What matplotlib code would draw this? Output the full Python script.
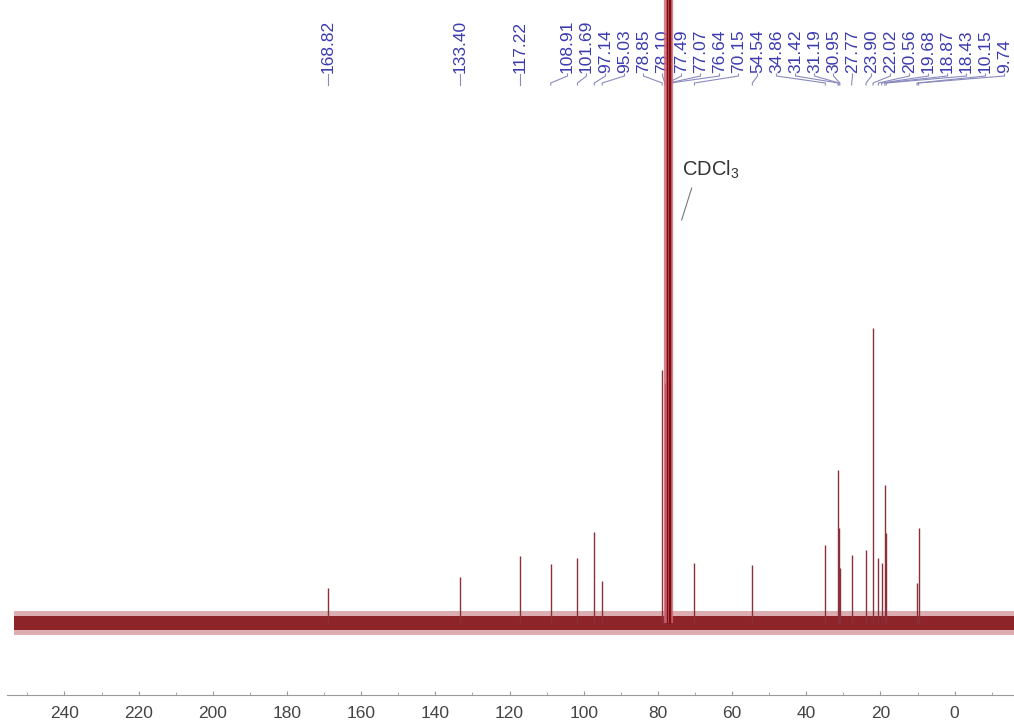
import numpy as np
import matplotlib.pyplot as plt

plt.rcParams['font.family'] = ['Liberation Sans', 'DejaVu Sans']
plt.rcParams['mathtext.fontset'] = 'custom'
plt.rcParams['mathtext.rm'] = 'Liberation Sans'
plt.rcParams['mathtext.default'] = 'regular'

# peak list (ppm) and heights (baseline = 0)
shifts = [168.82, 133.40, 117.22, 108.91, 101.69, 97.14, 95.03,
          78.85, 78.10, 77.49, 77.07, 76.64, 70.15, 54.54,
          34.86, 31.42, 31.19, 30.95, 27.77, 23.90, 22.02,
          20.56, 19.68, 18.87, 18.43, 10.15, 9.74]
heights = [35, 46, 67, 59, 65, 91, 42,
           253, 240, 900, 950, 880, 60, 58,
           78, 153, 95, 55, 68, 73, 295,
           65, 60, 138, 90, 40, 95]
solvent = [77.49, 77.07, 76.64]
noise_level = 7
x_ticks = [240, 220, 200, 180, 160, 140, 120, 100, 80, 60, 40, 20, 0]

RED = '#7e0c12'
BLUE = '#3b3bb0'
LEAD = '#8a8ac0'

W, H = 1014, 725
fig = plt.figure(figsize=(W / 100, H / 100), dpi=100)
ax = fig.add_axes([7 / W, 30 / H, 1007 / W, 695 / H])
ax.set_xlim(255.5, -16)
ax.set_ylim(-72, 623)
ppm_per_px = (255.5 + 16) / 1007


def ypx(y):
    # pixel row (from top) -> axes fraction
    return (695 - y) / 695


# baseline noise band
ax.fill_between([253.6, -16], -noise_level - 5, noise_level + 5, color='#a01820', alpha=0.35, lw=0, zorder=2)
ax.fill_between([253.6, -16], -noise_level, noise_level, color=RED, alpha=0.85, lw=0, zorder=2)

# peaks
for s, h in zip(shifts, heights):
    if s in solvent:
        ax.vlines(s, 0, h, color='#cc6670', lw=4.5, alpha=0.8, zorder=3)
        ax.vlines(s, 0, h, color=RED, lw=1.0, zorder=4)
    else:
        ax.vlines(s, 0, h, color='#8a3038', lw=1.0, zorder=3)

# group labels that would overlap, then lay each group out around its median
gap = 19 * ppm_per_px
pos = [-s for s in shifts]
clusters = [[i] for i in range(len(pos))]


def place(c, centre=np.mean):
    m = centre([pos[i] for i in c])
    return [m + (k - (len(c) - 1) / 2) * gap for k in range(len(c))]


merged = True
while merged:
    merged = False
    for j in range(len(clusters) - 1):
        a, b = place(clusters[j]), place(clusters[j + 1])
        if b[0] - a[-1] < gap:
            clusters[j] = clusters[j] + clusters[j + 1]
            del clusters[j + 1]
            merged = True
            break

label_x = {}
prev_end = -np.inf
right_limit = 16 - gap / 2
for c in clusters:
    p = place(c, np.median)
    shift = max(0, prev_end + gap - p[0])
    if p[-1] + shift > right_limit:
        shift = right_limit - p[-1]
    p = [v + shift for v in p]
    prev_end = p[-1]
    for i, v in zip(c, p):
        label_x[i] = -v

tr = ax.get_xaxis_transform()
for i, s in enumerate(shifts):
    lx = label_x[i]
    ax.text(lx, ypx(73), f'{s:.2f}', rotation=90, ha='center', va='bottom',
            transform=tr, color=BLUE, fontsize=12.5, zorder=1)
    ax.plot([lx, lx, s, s], [ypx(74), ypx(76), ypx(83), ypx(85)],
            transform=tr, color=LEAD, lw=0.8, zorder=1)

# solvent annotation
ax.text(73.6, 453, 'CDCl$_3$', ha='left', va='center', fontsize=14.5, color='#333333')
ax.plot([70.9, 73.6], [435, 403], color='#777777', lw=0.8)

# axis styling
for side in ['left', 'right', 'top']:
    ax.spines[side].set_visible(False)
ax.spines['bottom'].set_color('#9a9a9a')
ax.set_yticks([])
ax.set_xticks(x_ticks)
ax.set_xticks(np.arange(250, -16, -10), minor=True)
ax.tick_params(axis='x', which='both', direction='in', color='#9a9a9a', length=3,
               labelsize=12.5, labelcolor='#444444', pad=8)
ax.tick_params(axis='x', which='minor', length=2)
ax.patch.set_alpha(0)

fig.savefig('out.png', dpi=100)
